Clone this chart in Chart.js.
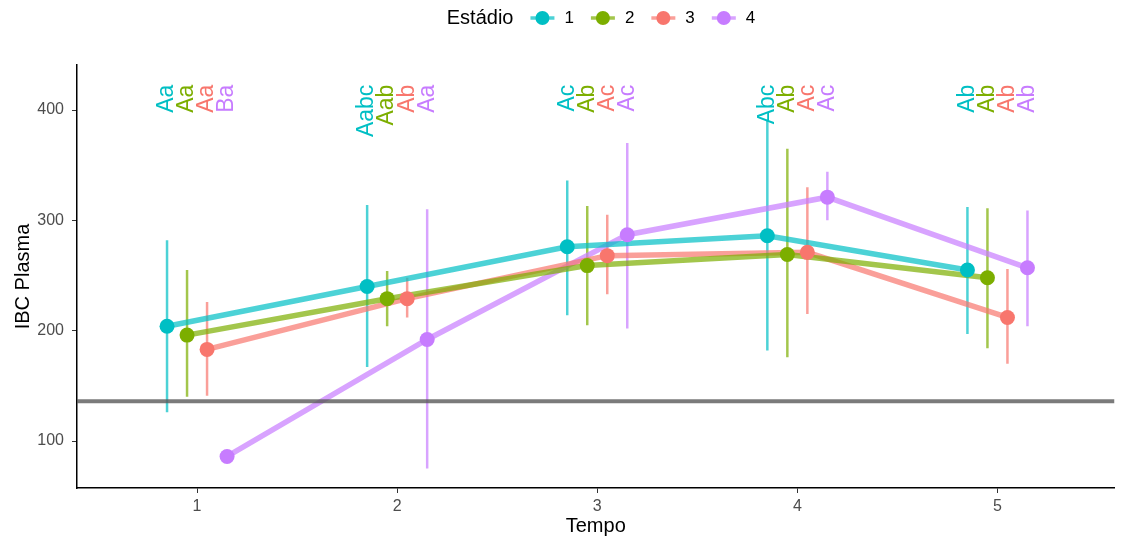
<!DOCTYPE html>
<html>
<head>
<meta charset="utf-8">
<script src="https://cdn.jsdelivr.net/npm/chart.js@4.4.1/dist/chart.umd.min.js"></script>
<style>
  html, body { margin: 0; padding: 0; background: #fff; }
</style>
</head>
<body>
<canvas id="grafico" width="1122" height="541"></canvas>
<script>
// dados
const tempos = [1, 2, 3, 4, 5];
const estadios = ['1', '2', '3', '4'];

const media1 = [204, 240, 276, 286, 255];
const media2 = [196, 229, 259, 269, 248];
const media3 = [183, 229, 268, 271, 212];
const media4 = [86, 192, 287, 321, 257];

const inf1 = [126, 167, 214, 182, 197];
const inf2 = [140, 204, 205, 176, 184];
const inf3 = [141, 212, 233, 215, 170];
const inf4 = [86, 75, 202, 300, 204];

const sup1 = [282, 314, 336, 390, 312];
const sup2 = [255, 254, 313, 365, 311];
const sup3 = [226, 248, 305, 330, 256];
const sup4 = [86, 310, 370, 344, 309];

const letras1 = ['Aa', 'Aabc', 'Ac', 'Abc', 'Ab'];
const letras2 = ['Aa', 'Aab', 'Ab', 'Ab', 'Ab'];
const letras3 = ['Aa', 'Ab', 'Ac', 'Ac', 'Ab'];
const letras4 = ['Ba', 'Aa', 'Ac', 'Ac', 'Ab'];

const referencia = 136;
const yTicks = [100, 200, 300, 400];

const medias = [media1, media2, media3, media4];
const inferiores = [inf1, inf2, inf3, inf4];
const superiores = [sup1, sup2, sup3, sup4];
const letras = [letras1, letras2, letras3, letras4];

const cores = ['#00BFC4', '#7CAE00', '#F8766D', '#C77CFF'];
const deslocamento = [-0.15, -0.05, 0.05, 0.15];
const yLetras = 423;
const xMin = 0.4, xMax = 5.585;
const fonte = '"Liberation Sans", Arial, sans-serif';

function rgba(hex, a) {
    const n = parseInt(hex.slice(1), 16);
    return 'rgba(' + (n >> 16) + ',' + ((n >> 8) & 255) + ',' + (n & 255) + ',' + a + ')';
}

const datasets = [];

// pontos (por cima de tudo)
estadios.forEach((e, g) => {
    datasets.push({
        label: 'pontos ' + e,
        data: tempos.map((t, i) => ({ x: t + deslocamento[g], y: medias[g][i] })),
        showLine: false,
        pointRadius: 7.5,
        pointBackgroundColor: cores[g],
        pointBorderWidth: 0
    });
});

// linha de referência
datasets.push({
    label: 'referencia',
    data: [{ x: xMin, y: referencia }, { x: xMax, y: referencia }],
    borderColor: 'rgba(90,90,90,0.8)',
    borderWidth: 4,
    pointRadius: 0
});

// linhas
estadios.forEach((e, g) => {
    datasets.push({
        label: 'linha ' + e,
        data: tempos.map((t, i) => ({ x: t + deslocamento[g], y: medias[g][i] })),
        borderColor: rgba(cores[g], 0.7),
        borderWidth: 5.5,
        pointRadius: 0,
        tension: 0
    });
});

// barras de erro
estadios.forEach((e, g) => {
    const pts = [];
    tempos.forEach((t, i) => {
        const x = t + deslocamento[g];
        pts.push({ x: x, y: inferiores[g][i] });
        pts.push({ x: x, y: superiores[g][i] });
        pts.push({ x: x, y: null });
    });
    datasets.push({
        label: 'erro ' + e,
        data: pts,
        borderColor: rgba(cores[g], 0.7),
        borderWidth: 2.5,
        pointRadius: 0,
        spanGaps: false
    });
});

const rotulosPlugin = {
    id: 'rotulos',
    afterDatasetsDraw(chart) {
        const { ctx, scales: { x, y } } = chart;
        ctx.save();
        ctx.font = '23px ' + fonte;
        ctx.textAlign = 'right';
        ctx.textBaseline = 'middle';
        estadios.forEach((e, g) => {
            ctx.fillStyle = cores[g];
            tempos.forEach((t, i) => {
                ctx.save();
                ctx.translate(x.getPixelForValue(t + deslocamento[g]), y.getPixelForValue(yLetras));
                ctx.rotate(-Math.PI / 2);
                ctx.fillText(letras[g][i], 0, 0);
                ctx.restore();
            });
        });
        ctx.restore();
    },
    afterDraw(chart) {
        // legenda no estilo ggplot
        const ctx = chart.ctx;
        ctx.save();
        ctx.textBaseline = 'middle';
        ctx.textAlign = 'left';
        ctx.font = '20px ' + fonte;
        const titulo = 'Estádio';
        const wTitulo = ctx.measureText(titulo).width;
        ctx.font = '17px ' + fonte;
        let total = wTitulo;
        estadios.forEach(e => { total += 17 + 24 + 10 + ctx.measureText(e).width; });
        let px = 601 - total / 2;
        const py = 18;
        ctx.font = '20px ' + fonte;
        ctx.fillStyle = '#000';
        ctx.fillText(titulo, px, py);
        px += wTitulo;
        ctx.font = '17px ' + fonte;
        estadios.forEach((e, g) => {
            px += 17;
            const cx = px + 12;
            ctx.strokeStyle = rgba(cores[g], 0.7);
            ctx.lineWidth = 3.5;
            ctx.beginPath();
            ctx.moveTo(cx - 12, py);
            ctx.lineTo(cx + 12, py);
            ctx.stroke();
            ctx.fillStyle = cores[g];
            ctx.beginPath();
            ctx.arc(cx, py, 7, 0, Math.PI * 2);
            ctx.fill();
            px += 24 + 10;
            ctx.fillStyle = '#000';
            ctx.fillText(e, px, py);
            px += ctx.measureText(e).width;
        });
        ctx.restore();
    }
};

const ctx = document.getElementById('grafico').getContext('2d');
new Chart(ctx, {
    type: 'line',
    data: { datasets: datasets },
    plugins: [rotulosPlugin],
    options: {
        responsive: false,
        animation: false,
        devicePixelRatio: 1,
        layout: { padding: { top: 65, left: 0, right: 0, bottom: 0 } },
        plugins: {
            legend: { display: false },
            tooltip: { enabled: false }
        },
        scales: {
            x: {
                type: 'linear',
                min: xMin,
                max: xMax,
                afterBuildTicks: s => { s.ticks = tempos.map(v => ({ value: v })); },
                afterFit: s => { s.height = 53; },
                grid: { drawOnChartArea: false, tickLength: 5, color: '#333' },
                border: { color: '#000', width: 1.5 },
                ticks: { font: { size: 16, family: fonte }, color: '#4d4d4d', padding: 4 },
                title: {
                    display: true, text: 'Tempo', color: '#000',
                    font: { size: 20, family: fonte }, padding: { top: 0, bottom: 3 }
                }
            },
            y: {
                type: 'linear',
                min: 57.4,
                max: 440.8,
                afterBuildTicks: s => { s.ticks = yTicks.map(v => ({ value: v })); },
                afterFit: s => { s.width = 77; },
                grid: { drawOnChartArea: false, tickLength: 5, color: '#333' },
                border: { color: '#000', width: 1.5 },
                ticks: { font: { size: 16, family: fonte }, color: '#4d4d4d', padding: 8 },
                title: {
                    display: true, text: 'IBC Plasma', color: '#000',
                    font: { size: 20, family: fonte }, padding: { top: 11, bottom: 0 }
                }
            }
        }
    }
});
</script>
</body>
</html>
